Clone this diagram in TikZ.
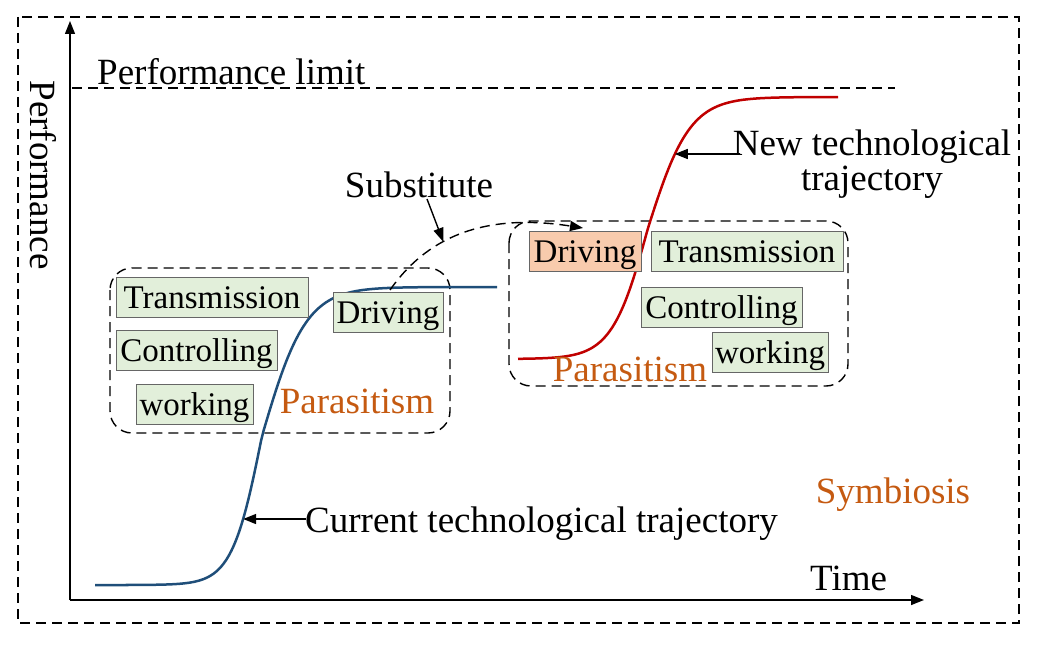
\documentclass[tikz,border=0pt]{standalone}
\usepackage{fontspec}
\setmainfont{Liberation Serif}
\usetikzlibrary{arrows.meta}
\definecolor{boxgreen}{HTML}{E2EFDA}
\definecolor{boxorange}{HTML}{F8CBAD}
\definecolor{txtorange}{HTML}{C55A11}
\definecolor{curveblue}{HTML}{1F4E79}
\definecolor{curvered}{HTML}{C00000}
\begin{document}
\begin{tikzpicture}[x=1pt,y=-1pt,
  dsh/.style={dash pattern=on 10pt off 6pt, line width=1.4pt},
  gbox/.style={draw=black!60, line width=0.8pt, fill=boxgreen, minimum height=40pt,
    inner sep=0pt, font=\rmfamily\fontsize{33}{36}\selectfont, text height=26pt, text depth=4pt},
  obox/.style={gbox, fill=boxorange},
  lbl/.style={font=\rmfamily\fontsize{37}{40}\selectfont, inner sep=0pt},
  olbl/.style={lbl, text=txtorange},
  arr/.style={-{Triangle[length=13pt,width=10pt]}, line width=1.4pt},
  curve/.style={line width=2.5pt}
]
\useasboundingbox (0,0) rectangle (1038,650);
% outer frame
\draw[dsh] (18,17) rectangle (1019,623);
% axes
\coordinate (O) at (70,600);
\coordinate (ytip) at (70,21);
\coordinate (xtip) at (924,600);
\draw[arr] (O) -- (ytip);
\draw[arr] (O) -- (xtip);
\node[lbl, rotate=-90] (perf) at (43,175) {Performance};
\node[lbl, anchor=base west] (time) at (810,590) {Time};
% performance limit
\coordinate (pl1) at (72,88);
\coordinate (pl2) at (895,88);
\draw[dsh] (pl1) -- (pl2);
\node[lbl, anchor=base west] (plim) at (97,85) {Performance limit};
% parasitism groups
\draw[dsh, rounded corners=22pt] (110,268) rectangle (450,433);
\draw[dsh, rounded corners=22pt] (509,221) rectangle (848,386);
% curves
\draw[curveblue, curve] (95,585) -- (127,585) -- plot[domain=127:497, samples=150]
  (\x, {585 - 298/(1+exp(-(\x-262)/(\x<262?15:22)))});
\draw[curvered, curve] plot[domain=518:838, samples=150]
  (\x, {359 - 262/(1+exp(-(\x-648)/(\x<648?18:21)))});
% substitute curve
\draw[dsh, -{Triangle[length=13pt,width=10pt]}] (390,290) .. controls (425,240) and (480,212) .. coordinate[pos=0.4] (st) (583,228);
% boxes
\node[gbox, minimum width=192pt] (ltr) at (212,297.5) {Transmission};
\node[gbox, minimum width=161pt] (lct) at (196.5,350) {Controlling};
\node[gbox, minimum width=117pt] (lwk) at (194.5,404) {working};
\node[gbox, minimum width=110pt] (ldr) at (388,312) {Driving};
\node[obox, minimum width=112pt] (rdr) at (585,251) {Driving};
\node[gbox, minimum width=192pt] (rtr) at (747,251) {Transmission};
\node[gbox, minimum width=161pt] (rct) at (721.5,307) {Controlling};
\node[gbox, minimum width=116pt] (rwk) at (770,352) {working};
\node[olbl, anchor=base] (lpar) at (357,413) {Parasitism};
\node[olbl, anchor=base] (rpar) at (630,381) {Parasitism};
\node[olbl, anchor=base] (sym) at (893,503) {Symbiosis};
% labels with arrows
\node[lbl, anchor=base] (sub) at (419,197) {Substitute};
\coordinate (sa) at (427,199);
\draw[line width=1.4pt, -{Triangle[length=14pt,width=10pt]}] (sa) -- (st);
\node[lbl, anchor=base] (new1) at (872,155) {New technological};
\node[lbl, anchor=base] (new2) at (872,190) {trajectory};
\coordinate (na) at (740,154);
\coordinate (rc) at (674.8,154);
\draw[arr] (na) -- (rc);
\node[lbl, anchor=base west] (cur) at (305,532) {Current technological trajectory};
\coordinate (ca) at (306,519);
\coordinate (bc) at (243.1,519);
\draw[arr] (ca) -- (bc);
\end{tikzpicture}
\end{document}
